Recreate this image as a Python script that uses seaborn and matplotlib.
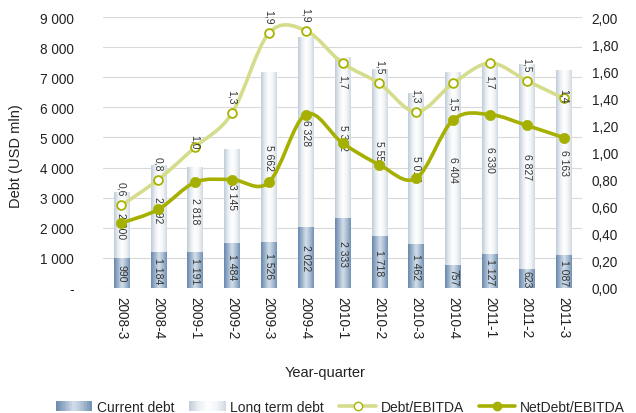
import numpy as np
import pandas as pd
import matplotlib
matplotlib.use("Agg")
import matplotlib.pyplot as plt
import seaborn as sns
from matplotlib.path import Path
from matplotlib.patches import PathPatch, Patch, Rectangle
from matplotlib.lines import Line2D
from matplotlib.colors import LinearSegmentedColormap
from matplotlib.legend_handler import HandlerBase

quarters = ["2008-3", "2008-4", "2009-1", "2009-2", "2009-3", "2009-4", "2010-1",
            "2010-2", "2010-3", "2010-4", "2011-1", "2011-2", "2011-3"]
current_debt = [990, 1184, 1191, 1484, 1526, 2022, 2333, 1718, 1462, 757, 1127, 623, 1087]
long_term_debt = [2200, 2892, 2818, 3145, 5662, 6328, 5332, 5550, 5014, 6404, 6330, 6827, 6163]
debt_ebitda = [0.61, 0.80, 1.04, 1.29, 1.88, 1.90, 1.66, 1.51, 1.30, 1.51, 1.66, 1.53, 1.40]
netdebt_ebitda = [0.48, 0.58, 0.78, 0.80, 0.78, 1.28, 1.07, 0.91, 0.81, 1.24, 1.28, 1.20, 1.11]
left_ticks = [0, 1000, 2000, 3000, 4000, 5000, 6000, 7000, 8000, 9000]
right_ticks = [0.0, 0.2, 0.4, 0.6, 0.8, 1.0, 1.2, 1.4, 1.6, 1.8, 2.0]
# label offsets (points) for Debt/EBITDA data labels
label_offsets = [12, 12, 4, 12, 12, 12, -13, 12, 12, -14, -13, 12, 2]

sns.set_theme(style="white")
plt.rcParams['font.family'] = ['Liberation Sans', 'DejaVu Sans']

df = pd.DataFrame({"quarter": quarters, "current": current_debt, "long": long_term_debt})
df["total"] = df["current"] + df["long"]

fig = plt.figure(figsize=(6.36, 4.14), dpi=100)
ax = fig.add_axes([103 / 636, 1 - 289 / 414, 479 / 636, 271 / 414])

BW = 0.42
sns.barplot(data=df, x="quarter", y="total", ax=ax, width=BW, color="#dfe6ec",
            saturation=1, edgecolor="none", zorder=2)
sns.barplot(data=df, x="quarter", y="current", ax=ax, width=BW, color="#8ea8c6",
            saturation=1, edgecolor="none", zorder=3)

light_cmap = LinearSegmentedColormap.from_list(
    "light", ["#bfccd8", "#e9eef2", "#ffffff", "#f2f5f7", "#d0dae3"])
dark_cmap = LinearSegmentedColormap.from_list(
    "dark", ["#6888ae", "#9cb2cb", "#d3deea", "#aabdd2", "#7191b5"])
grad = np.linspace(0, 1, 64).reshape(1, -1)
n = len(quarters)
for k, p in enumerate(ax.patches[:2 * n]):
    cmap = light_cmap if k < n else dark_cmap
    x0, y0 = p.get_x(), p.get_y()
    w, h = p.get_width(), p.get_height()
    im = ax.imshow(grad, cmap=cmap, aspect="auto", extent=[x0, x0 + w, y0, y0 + h],
                   zorder=p.get_zorder() + 0.1, interpolation="bilinear")
    im.set_clip_path(p)

def fmt_int(v):
    return f"{int(v):,}".replace(",", " ")

for i in range(n):
    c, l = current_debt[i], long_term_debt[i]
    ax.text(i, c / 2, fmt_int(c), rotation=270, ha="center", va="center",
            fontsize=7.5, color="#333333", zorder=6)
    ax.text(i, c + l / 2, fmt_int(l), rotation=270, ha="center", va="center",
            fontsize=7.5, color="#333333", zorder=6)

ax.set_xlim(-0.5, n - 0.5)
ax.set_ylim(0, 9000)
ax.set_yticks(left_ticks)
ax.set_yticklabels(["-" if v == 0 else fmt_int(v) for v in left_ticks], fontsize=9.8)
ax.yaxis.grid(True, color="#d9d9d9", lw=0.8, zorder=0)
ax.set_axisbelow(True)
ax.tick_params(axis="both", length=0, colors="#222222")
ax.tick_params(axis="x", labelrotation=270, labelsize=9.8, pad=6)
ax.tick_params(axis="y", pad=21)
for s in ax.spines.values():
    s.set_visible(False)
ax.set_ylabel("Debt (USD mln)", fontsize=10.5, color="#222222")
ax.yaxis.set_label_coords(-0.168, 0.49)
ax.set_xlabel("Year-quarter", fontsize=10.5, color="#222222")
ax.xaxis.set_label_coords(0.463, -0.285)

ax2 = ax.twinx()
ax2.set_ylim(0, 2.0)
ax2.set_yticks(right_ticks)
ax2.set_yticklabels([f"{v:.2f}".replace(".", ",") for v in right_ticks], fontsize=9.8)
ax2.tick_params(axis="y", length=0, pad=7, colors="#222222")
for s in ax2.spines.values():
    s.set_visible(False)
ax2.grid(False)

def smooth_path(xs, ys):
    pts = np.column_stack([xs, ys]).astype(float)
    m = len(pts)
    verts = [pts[0]]
    codes = [Path.MOVETO]
    for i in range(m - 1):
        p0 = pts[max(i - 1, 0)]
        p1 = pts[i]
        p2 = pts[i + 1]
        p3 = pts[min(i + 2, m - 1)]
        c1 = p1 + (p2 - p0) / 6
        c2 = p2 - (p3 - p1) / 6
        verts += [c1, c2, p2]
        codes += [Path.CURVE4] * 3
    return Path(verts, codes)

xpos = np.arange(n)
light_line = "#d5dd8c"
dark_line = "#a6b000"
ax2.add_patch(PathPatch(smooth_path(xpos, debt_ebitda), facecolor="none",
                        edgecolor=light_line, lw=2.6, zorder=4, capstyle="round"))
ax2.add_patch(PathPatch(smooth_path(xpos, netdebt_ebitda), facecolor="none",
                        edgecolor=dark_line, lw=2.6, zorder=4, capstyle="round"))
sns.scatterplot(x=xpos, y=debt_ebitda, ax=ax2, s=40, color="white",
                edgecolor="#a8b200", linewidth=1.3, zorder=5, legend=False)
sns.scatterplot(x=xpos, y=netdebt_ebitda, ax=ax2, s=55, color=dark_line,
                edgecolor=dark_line, linewidth=0.5, zorder=5, legend=False)

for i, v in enumerate(debt_ebitda):
    ax2.annotate(f"{v:.1f}".replace(".", ","), (i, v), xytext=(0, label_offsets[i]),
                 textcoords="offset points", rotation=270, ha="center", va="center",
                 fontsize=7.5, color="#333333", zorder=6)

ax2.set_xlim(-0.5, n - 0.5)


class GradientHandler(HandlerBase):
    def __init__(self, cmap, steps=24):
        super().__init__()
        self.cmap = cmap
        self.steps = steps

    def create_artists(self, legend, orig_handle, xdescent, ydescent, width, height,
                       fontsize, trans):
        arts = []
        sw = width / self.steps
        for j in range(self.steps):
            col = self.cmap((j + 0.5) / self.steps)
            arts.append(Rectangle((-xdescent + j * sw, -ydescent), sw * 1.05, height,
                                  facecolor=col, edgecolor="none", transform=trans))
        return arts


h_cur = Patch(facecolor="#8ea8c6", edgecolor="none")
h_long = Patch(facecolor="#e3e9ee", edgecolor="none")
handles = [
    h_cur,
    h_long,
    Line2D([], [], color=light_line, lw=2.6, marker="o", markersize=6,
           markerfacecolor="white", markeredgecolor="#a8b200"),
    Line2D([], [], color=dark_line, lw=2.6, marker="o", markersize=6,
           markerfacecolor=dark_line, markeredgecolor=dark_line),
]
labels = ["Current debt", "Long term debt", "Debt/EBITDA", "NetDebt/EBITDA"]
fig.legend(handles, labels, loc="lower center", bbox_to_anchor=(0.535, -0.032), ncol=4,
           frameon=False, fontsize=10, handlelength=2.6, handleheight=0.7,
           columnspacing=1.1, handletextpad=0.35,
           handler_map={h_cur: GradientHandler(dark_cmap),
                        h_long: GradientHandler(light_cmap)})

fig.savefig("out.png", dpi=100)
